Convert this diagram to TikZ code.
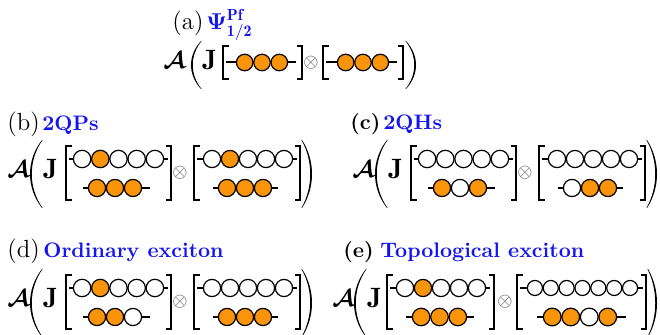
\RequirePackage{fix-cm}
\documentclass[tikz,border=0pt]{standalone}
\usepackage{amsmath,bm}
\usepackage{fontspec}
\definecolor{orb}{RGB}{250,148,10}
\definecolor{lbl}{RGB}{20,20,240}
\tikzset{
  orbline/.style={line width=1pt, black},
  orbc/.style={line width=0.6pt, draw=black},
  brk/.style={line width=0.75pt, black},
  plabel/.style={anchor=base west, inner sep=0pt, font=\fontsize{12.4}{14}\selectfont},
  pblabel/.style={anchor=base west, inner sep=0pt, font=\fontsize{10.7}{13}\selectfont\bfseries},
  blabel/.style={anchor=base west, inner sep=0pt, text=lbl, font=\fontsize{10.5}{12}\selectfont\bfseries},
  formula/.style={anchor=base west, inner sep=0pt, font=\fontsize{12}{14}\selectfont},
  jform/.style={anchor=base west, inner sep=0pt, font=\fontsize{14}{16}\selectfont},
  otim/.style={inner sep=0pt, text=black!65, font=\fontsize{9.5}{11}\selectfont},
}
% x0 x1 x2 x3 y n pattern
\newcommand\orbrow[7]{%
  \draw[orbline] (#1,#5) -- (#4,#5);
  \foreach \f [count=\i from 0] in {#7} {
    \pgfmathsetmacro\cx{#2+(\i+0.5)*(#3-#2)/#6}
    \pgfmathsetmacro\rr{(#3-#2)/#6/2-0.4}
    \ifnum\f=1 \def\fc{orb}\else\def\fc{white}\fi
    \filldraw[orbc, fill=\fc] (\cx,#5) circle[radius=\rr];
  }
}
\newcommand\lbrk[3]{\draw[brk] (#1+5.5,#2) -- (#1,#2) -- (#1,#3) -- (#1+5.5,#3);}
\newcommand\rbrk[3]{\draw[brk] (#1-5.5,#2) -- (#1,#2) -- (#1,#3) -- (#1-5.5,#3);}
% xl xr y1 y2
\newcommand\lpar[4]{%
  \pgfmathsetmacro\hh{#4-#3}
  \pgfmathsetmacro\co{(#1-0.25*#2)/0.75}
  \pgfmathsetmacro\ci{(#1+1.6-0.25*#2)/0.75}
  \fill (#2,#3) .. controls (\co,#3+0.3*\hh) and (\co,#4-0.3*\hh) .. (#2,#4)
    -- (#2+0.6,#4) .. controls (\ci,#4-0.3*\hh) and (\ci,#3+0.3*\hh) .. (#2+0.6,#3) -- cycle;
}
\newcommand\rpar[4]{%
  \pgfmathsetmacro\hh{#4-#3}
  \pgfmathsetmacro\co{(#2-0.25*#1)/0.75}
  \pgfmathsetmacro\ci{(#2-1.6-0.25*#1)/0.75}
  \fill (#1,#3) .. controls (\co,#3+0.3*\hh) and (\co,#4-0.3*\hh) .. (#1,#4)
    -- (#1-0.6,#4) .. controls (\ci,#4-0.3*\hh) and (\ci,#3+0.3*\hh) .. (#1-0.6,#3) -- cycle;
}
% standard panel (b geometry): G1top G1bot G2top G2bot prefix
\newcommand\stdpanel[5]{%
  \lpar{30}{42}{140}{208}
  \rpar{302}{312}{140}{208}
  \lbrk{66}{146}{200} \rbrk{171}{146}{200}
  \lbrk{194}{146}{200} \rbrk{300}{146}{200}
  \orbrow{69}{73}{164}{168}{159}{5}{#1}
  \orbrow{83}{88}{142}{150}{188}{3}{#2}
  \orbrow{197}{203}{293}{297}{159}{5}{#3}
  \orbrow{213}{218}{272}{278}{188}{3}{#4}
  \node[otim] (#5x) at (180,173) {$\otimes$};
  \node[formula] (#5A) at (7,178) {$\bm{\mathcal{A}}$};
  \node[jform] (#5J) at (43,179) {$\mathbf{J}$};
}
\begin{document}
\begin{tikzpicture}[x=0.5pt,y=-0.5pt]
\useasboundingbox (0,0) rectangle (660,335);
% ---- panel a
\node[plabel] (la) at (172,30) {(a)};
\node[anchor=base west, inner sep=0pt, text=lbl, font=\fontsize{11.5}{13}\selectfont] (psi) at (206,30) {$\bm{\Psi}^{\mathbf{Pf}}_{\mathbf{1/2}}$};
\node[formula] (aA) at (163,69) {$\bm{\mathcal{A}}$};
\node[jform] (aJ) at (202,70) {$\mathbf{J}$};
\lpar{191}{201}{41}{89}
\rpar{406}{416}{41}{89}
\lbrk{223}{46}{79} \rbrk{302}{46}{79}
\lbrk{323}{46}{79} \rbrk{403}{46}{79}
\orbrow{226}{236}{288}{296}{62.5}{3}{1,1,1}
\orbrow{326}{337}{389}{397}{62.5}{3}{1,1,1}
\node[otim] (ax) at (311,62.5) {$\otimes$};
% ---- panel b
\node[plabel] (lb) at (7,131) {(b)};
\node[blabel] (tb) at (42,131) {2QPs};
\stdpanel{0,1,0,0,0}{1,1,1}{0,1,0,0,0}{1,1,1}{b}
% ---- panel c
\node[pblabel] (lc) at (350,130) {(c)};
\node[blabel] (tc) at (383,130) {2QHs};
\begin{scope}[shift={(345,0)}]
\stdpanel{0,0,0,0,0}{1,0,1}{0,0,0,0,0}{0,1,1}{c}
\end{scope}
% ---- panel d
\node[plabel] (ld) at (7,258) {(d)};
\node[blabel] (td) at (43,258) {Ordinary exciton};
\begin{scope}[shift={(0,129)}]
\stdpanel{0,1,0,0,0}{1,1,0}{0,0,0,0,0}{1,1,1}{d}
\end{scope}
% ---- panel e
\node[pblabel] (le) at (343,258) {(e)};
\node[blabel] (te) at (380,258) {Topological exciton};
\node[formula] (eA) at (332,307) {$\bm{\mathcal{A}}$};
\node[jform] (eJ) at (367,308) {$\mathbf{J}$};
\lpar{354}{366}{269}{337}
\rpar{648}{657}{269}{337}
\lbrk{387}{275}{329} \rbrk{494}{275}{329}
\lbrk{517}{275}{329} \rbrk{646}{275}{329}
\orbrow{390}{396}{486}{490}{288}{5}{0,1,0,0,0}
\orbrow{406}{412}{467}{474}{317}{3}{1,1,1}
\orbrow{520}{527}{638}{643}{288}{7}{0,0,0,0,0,0,0}
\orbrow{537}{543}{617}{626}{317}{4}{1,1,0,1}
\node[otim] (ex) at (505,302) {$\otimes$};
\end{tikzpicture}
\end{document}
